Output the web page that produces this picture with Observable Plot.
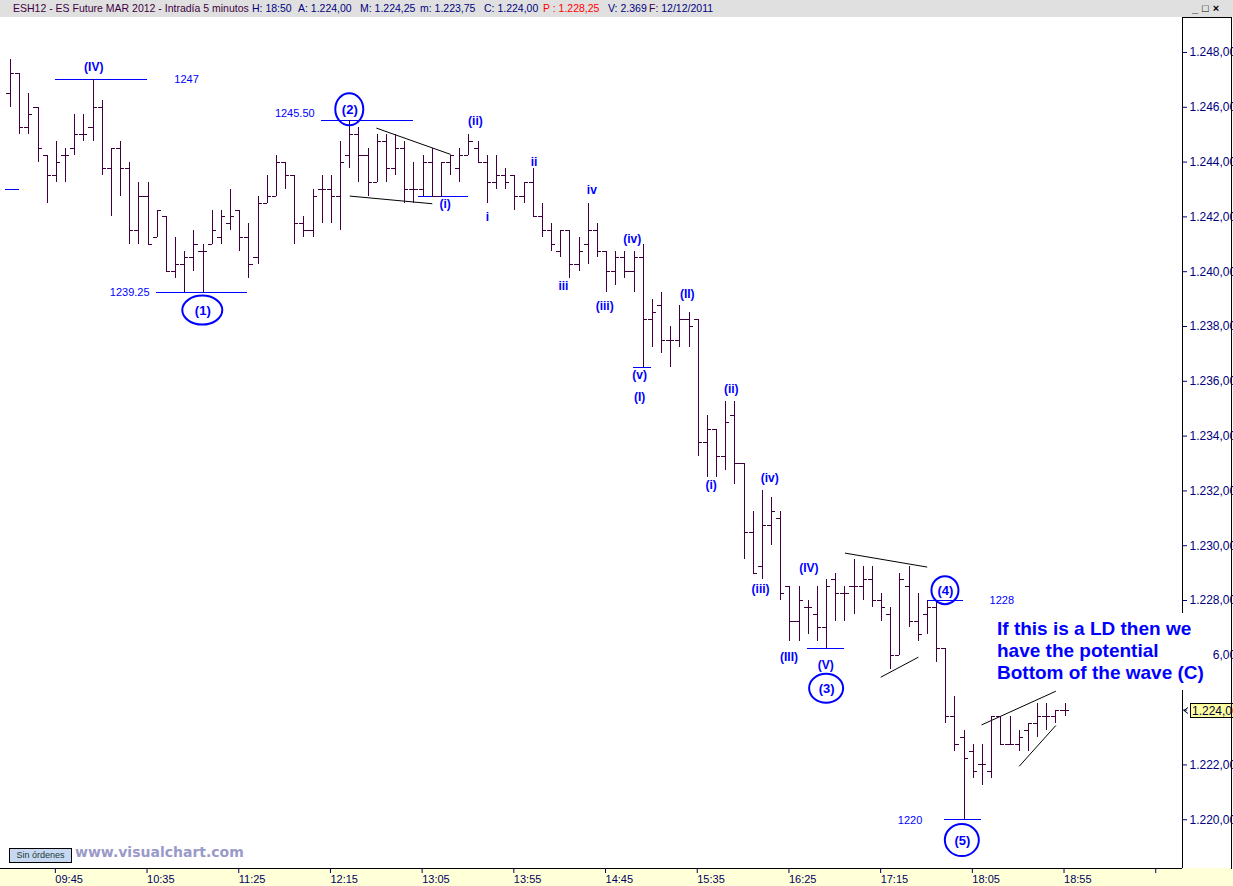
<!DOCTYPE html>
<html>
<head>
<meta charset="utf-8">
<script src="https://cdn.jsdelivr.net/npm/d3@7"></script>
<script src="https://cdn.jsdelivr.net/npm/@observablehq/plot@0.6"></script>
<style>
  body { margin: 0; background: #fff; font-family: "Liberation Sans", Arial, sans-serif; }
  #wrap { position: relative; width: 1233px; height: 886px; overflow: hidden; background: #fff; }
  #hdr { position: absolute; left: 0; top: 0; width: 1233px; height: 17px; background: #e0e0e0; font-size: 10.5px; line-height: 17px; white-space: nowrap; color: #000080; }
  #hdr span { position: absolute; top: 0; }
  .pu { color: #400040; }
  .rd { color: #ff0000; }
  #btns { position: absolute; left: 1192px; top: -2px; font-size: 11px; font-weight: bold; color: #000; letter-spacing: 4px; }
  #strip { position: absolute; left: 0; top: 868px; width: 1233px; height: 18px; background: #ffffd8; }
  #chart { position: absolute; left: 0; top: 17px; z-index: 1; }
  #panel { position: absolute; left: 1182px; top: 17px; width: 49px; height: 851px; border-top: 1px solid #000; border-right: 1px solid #000; z-index: 2; pointer-events: none; }
  #note { position: absolute; left: 993px; top: 613px; width: 220px; height: 77px; padding: 5px 0 0 4px; box-sizing: border-box; background: #fff; z-index: 3; color: #0000ff; font-weight: bold; font-size: 19px; line-height: 22px; white-space: nowrap; }
  #orders { position: absolute; left: 9px; top: 848px; width: 61px; height: 13px; background: #c8d8f0; border: 1px solid #000; font-size: 9px; line-height: 13px; text-align: center; color: #183838; z-index: 3; }
  #brand { position: absolute; left: 75px; top: 844px; font-family: "DejaVu Sans", sans-serif; font-weight: bold; font-size: 14px; color: #9a9ac8; z-index: 3; }
</style>
</head>
<body>
<div id="wrap">
  <div id="hdr">
    <span class="pu" style="left:13px">ESH12 - ES Future MAR 2012 - Intradía 5 minutos</span>
    <span style="left:252px">H: 18:50</span>
    <span style="left:298px">A: 1.224,00</span>
    <span style="left:360px">M: 1.224,25</span>
    <span style="left:420px">m: 1.223,75</span>
    <span style="left:484px">C: 1.224,00</span>
    <span class="rd" style="left:543px">P : 1.228,25</span>
    <span style="left:608px">V: 2.369</span>
    <span style="left:649px"><span class="pu" style="position:static">F:</span> 12/12/2011</span>
    <span id="btns">_□×</span>
  </div>
  <div id="strip"></div>
  <div id="chart"></div>
  <div id="panel"></div>
  <div id="note">If this is a LD then we<br>have the potential<br>Bottom of the wave (C)</div>
  <div id="orders">Sin órdenes</div>
  <div id="brand">www.visualchart.com</div>
</div>
<script>
// ---------- data: ESH12 5-minute bars, 12/12/2011 ----------
const startTime = "09:15";
const barMinutes = 5;

const opens = [
  1246.5, 1247.25, 1245.25, 1246.0, 1244.25, 1243.5, 1244.25, 1244.5, 1245.0, 1245.25,
  1246.0, 1243.75, 1244.5, 1243.75, 1241.5, 1242.75, 1241.25, 1242.0, 1240.0, 1240.25,
  1240.5, 1240.75, 1241.0, 1241.25, 1241.75, 1242.25, 1241.25, 1240.5, 1242.5, 1242.75,
  1244.0, 1243.5, 1241.75, 1241.5, 1243.0, 1243.0, 1242.75, 1244.25, 1245.0, 1244.25,
  1243.25, 1244.75, 1243.75, 1244.5, 1243.0, 1243.0, 1244.0, 1242.75, 1244.0, 1243.75,
  1244.25, 1244.5, 1244.0, 1243.25, 1243.5, 1243.5, 1242.75, 1243.25, 1242.0, 1241.5,
  1240.75, 1241.5, 1240.25, 1241.0, 1241.5, 1240.75, 1240.0, 1240.5, 1240.0, 1240.5,
  1238.25, 1238.75, 1237.5, 1237.5, 1238.25, 1238.25, 1233.75, 1234.25, 1233.25, 1234.75,
  1233.0, 1230.5, 1229.25, 1230.75, 1231.0, 1228.5, 1227.25, 1227.75, 1227.5, 1227.0,
  1228.75, 1228.25, 1228.5, 1228.5, 1228.75, 1228.0, 1227.5, 1226.0, 1228.5, 1227.25,
  1227.5, 1227.75, 1226.25, 1223.75, 1223.0, 1222.5, 1222.0, 1221.75, 1223.75, 1222.75,
  1222.75, 1223.25, 1223.5, 1223.75, 1223.75, 1224.0
];
const highs = [
  1247.75, 1247.25, 1246.5, 1246.0, 1244.25, 1244.75, 1244.5, 1245.75, 1245.75, 1247.0,
  1246.25, 1244.5, 1244.75, 1244.0, 1243.25, 1243.25, 1242.25, 1242.0, 1241.25, 1240.75,
  1241.5, 1241.0, 1242.25, 1242.25, 1243.0, 1242.25, 1241.75, 1242.75, 1243.5, 1244.25,
  1244.0, 1243.5, 1242.0, 1243.0, 1243.5, 1243.5, 1244.75, 1245.5, 1245.25, 1244.5,
  1245.0, 1245.0, 1245.0, 1244.75, 1244.0, 1244.25, 1244.5, 1244.0, 1244.25, 1244.5,
  1245.0, 1244.75, 1244.25, 1244.25, 1243.75, 1243.5, 1243.25, 1243.75, 1242.5, 1241.75,
  1241.5, 1241.5, 1241.25, 1242.5, 1241.75, 1240.75, 1240.75, 1240.75, 1240.75, 1241.0,
  1239.0, 1239.25, 1238.0, 1238.75, 1238.5, 1238.25, 1234.75, 1234.25, 1235.25, 1235.25,
  1233.0, 1231.25, 1232.0, 1231.75, 1231.25, 1228.5, 1228.5, 1228.0, 1228.5, 1228.75,
  1229.0, 1228.5, 1229.5, 1229.25, 1229.25, 1228.25, 1227.75, 1229.0, 1229.25, 1228.25,
  1228.0, 1228.0, 1226.25, 1224.5, 1223.25, 1222.75, 1222.75, 1223.75, 1223.75, 1223.75,
  1223.25, 1223.5, 1224.25, 1224.25, 1224.0, 1224.25
];
const lows = [
  1246.0, 1245.0, 1245.0, 1244.0, 1242.5, 1243.25, 1243.25, 1244.25, 1244.75, 1244.75,
  1243.5, 1242.0, 1242.75, 1241.0, 1241.0, 1241.0, 1241.25, 1240.0, 1239.75, 1239.25,
  1240.0, 1239.25, 1241.0, 1241.0, 1241.5, 1240.75, 1239.75, 1240.25, 1242.5, 1242.75,
  1243.0, 1241.0, 1241.25, 1241.25, 1241.75, 1241.75, 1241.5, 1243.75, 1243.25, 1242.75,
  1243.25, 1243.25, 1243.5, 1242.5, 1242.5, 1242.75, 1242.75, 1242.75, 1243.5, 1243.25,
  1244.25, 1244.0, 1242.5, 1243.0, 1243.0, 1242.25, 1242.5, 1242.0, 1241.25, 1240.75,
  1240.5, 1239.75, 1240.0, 1240.25, 1240.5, 1239.25, 1239.5, 1239.75, 1239.25, 1236.5,
  1237.25, 1237.0, 1236.5, 1237.25, 1237.25, 1233.25, 1232.5, 1232.5, 1232.75, 1232.25,
  1229.5, 1229.0, 1228.75, 1230.0, 1228.0, 1226.5, 1226.5, 1226.75, 1226.5, 1226.25,
  1227.25, 1227.25, 1227.5, 1228.0, 1227.75, 1227.25, 1225.5, 1226.0, 1227.0, 1226.5,
  1226.75, 1225.75, 1223.5, 1222.5, 1220.0, 1221.5, 1221.25, 1221.5, 1222.75, 1222.75,
  1222.5, 1222.5, 1223.0, 1223.25, 1223.5, 1223.75
];
const closes = [
  1247.25, 1245.25, 1245.75, 1244.5, 1243.5, 1244.0, 1244.25, 1245.0, 1245.0, 1246.0,
  1243.75, 1244.5, 1243.75, 1241.5, 1242.75, 1241.0, 1242.25, 1240.0, 1240.25, 1240.5,
  1241.0, 1240.75, 1241.5, 1242.0, 1242.0, 1241.25, 1240.25, 1242.5, 1242.75, 1244.0,
  1243.5, 1241.75, 1241.5, 1242.75, 1243.0, 1242.75, 1244.0, 1245.0, 1244.25, 1243.25,
  1244.75, 1243.75, 1244.5, 1243.0, 1243.0, 1244.0, 1242.75, 1244.0, 1244.25, 1244.25,
  1244.75, 1244.0, 1243.25, 1243.5, 1243.25, 1242.75, 1243.25, 1242.0, 1241.5, 1241.0,
  1241.5, 1240.25, 1240.75, 1241.5, 1240.75, 1240.0, 1240.5, 1240.0, 1240.5, 1238.25,
  1238.5, 1237.5, 1237.5, 1238.25, 1238.0, 1233.75, 1234.25, 1233.25, 1234.5, 1233.0,
  1230.5, 1229.0, 1230.75, 1231.25, 1228.25, 1227.25, 1228.0, 1227.75, 1227.0, 1228.5,
  1228.25, 1228.25, 1228.5, 1228.75, 1228.0, 1227.75, 1226.0, 1228.75, 1227.25, 1226.75,
  1227.75, 1226.25, 1223.75, 1222.75, 1222.25, 1221.75, 1222.0, 1223.75, 1222.75, 1222.75,
  1223.0, 1223.5, 1223.75, 1223.75, 1224.0, 1224.0
];

const xTickLabels = ["09:45","10:35","11:25","12:15","13:05","13:55","14:45","15:35","16:25","17:15","18:05","18:55"];
const yTicks = [1220,1222,1224,1226,1228,1230,1232,1234,1236,1238,1240,1242,1244,1246,1248];

// ---------- annotations (bar index, price) ----------
const levelLines = [
  {x1: 4.9, x2: 14.9, y: 1247},
  {x1: 15.9, x2: 25.9, y: 1239.25},
  {x1: 33.9, x2: 43.9, y: 1245.5},
  {x1: 44.5, x2: 49.9, y: 1242.75},
  {x1: 67.9, x2: 69.9, y: 1236.5},
  {x1: 86.9, x2: 90.9, y: 1226.25},
  {x1: 100.0, x2: 103.9, y: 1228},
  {x1: 101.9, x2: 105.9, y: 1220},
  {x1: -0.55, x2: 0.98, y: 1243}
];
const trendLines = [
  {x1: 39.9, y1: 1245.24, x2: 48.0, y2: 1244.28},
  {x1: 37.0, y1: 1242.76, x2: 46.0, y2: 1242.48},
  {x1: 91.0, y1: 1229.73, x2: 99.97, y2: 1229.22},
  {x1: 94.9, y1: 1225.2, x2: 99.0, y2: 1225.93},
  {x1: 105.9, y1: 1223.46, x2: 114.0, y2: 1224.69},
  {x1: 110.0, y1: 1221.95, x2: 114.0, y2: 1223.44}
];
const waveLabels = [
  {t: "(IV)", x: 9.08, y: 1247.46},
  {t: "(i)", x: 47.4, y: 1242.48},
  {t: "(ii)", x: 50.7, y: 1245.48},
  {t: "i", x: 52.0, y: 1241.99},
  {t: "ii", x: 57.1, y: 1244.0},
  {t: "iii", x: 60.3, y: 1239.47},
  {t: "iv", x: 63.4, y: 1242.96},
  {t: "(iii)", x: 64.8, y: 1238.74},
  {t: "(iv)", x: 67.8, y: 1241.2},
  {t: "(v)", x: 68.6, y: 1236.21},
  {t: "(I)", x: 68.6, y: 1235.42},
  {t: "(II)", x: 73.8, y: 1239.18},
  {t: "(i)", x: 76.4, y: 1232.2},
  {t: "(ii)", x: 78.6, y: 1235.7},
  {t: "(iii)", x: 81.8, y: 1228.43},
  {t: "(iv)", x: 82.8, y: 1232.45},
  {t: "(III)", x: 84.9, y: 1225.93},
  {t: "(IV)", x: 87.06, y: 1229.18},
  {t: "(V)", x: 88.9, y: 1225.65}
];
const circled = [
  {t: "(1)", x: 20.97, y: 1238.58, rx: 20, ry: 14.5},
  {t: "(2)", x: 37.0, y: 1245.91, rx: 14, ry: 16},
  {t: "(3)", x: 89.0, y: 1224.78, rx: 17, ry: 14.5},
  {t: "(4)", x: 101.96, y: 1228.36, rx: 13.5, ry: 14},
  {t: "(5)", x: 103.8, y: 1219.24, rx: 17, ry: 16}
];
const priceNotes = [
  {t: "1247", x: 19.2, y: 1247.0},
  {t: "1245.50", x: 31.0, y: 1245.76},
  {t: "1239.25", x: 13.0, y: 1239.25},
  {t: "1228", x: 108.1, y: 1228.0},
  {t: "1220", x: 98.1, y: 1219.97}
];

// ---------- build ----------
const bars = opens.map((o, i) => ({i, open: o, high: highs[i], low: lows[i], close: closes[i]}));
const toMin = s => { const [h, m] = s.split(":").map(Number); return h * 60 + m; };
const tickBars = xTickLabels.map(s => (toMin(s) - barMinutes - toMin(startTime)) / barMinutes);
const xTicks = tickBars.concat([tickBars[tickBars.length - 1] + 10]);
const labelOf = new Map(tickBars.map((b, k) => [b, xTickLabels[k]]));

const loc = d3.formatLocale({decimal: ",", thousands: ".", grouping: [3], currency: ["", ""]});
const fmtPrice = loc.format(",.2f");
const last = closes[closes.length - 1];

const xDomain = [-1.09, 127.81];
const yDomain = [1218.22, 1249.24];
const barColor = "#400040";
const blue = "#0000ff";
const tw = 0.45;

const plot = Plot.plot({
  width: 1233,
  height: 869,
  marginTop: 1,
  marginBottom: 18,
  marginLeft: 0,
  marginRight: 51,
  style: {background: "transparent", fontFamily: "'Liberation Sans', Arial, sans-serif", overflow: "visible"},
  x: {domain: xDomain, label: null},
  y: {domain: yDomain, label: null},
  marks: [
    Plot.ruleX([xDomain[1]], {stroke: "#000", shapeRendering: "crispEdges"}),
    Plot.ruleY([yDomain[0]], {stroke: "#000", shapeRendering: "crispEdges"}),
    Plot.axisY({anchor: "right", ticks: yTicks, tickFormat: d => d === last ? "" : fmtPrice(d), tickSize: 4, tickPadding: 3, fontSize: 12, color: "#000080", label: null}),
    Plot.axisX({ticks: xTicks, tickFormat: d => labelOf.get(d) ?? "", tickSize: 5, tickPadding: 2, textAnchor: "start", dx: -1, fontSize: 11, color: "#000060", label: null}),
    // level lines & trend lines
    Plot.ruleY(levelLines, {y: "y", x1: "x1", x2: "x2", stroke: blue, shapeRendering: "crispEdges"}),
    Plot.link(trendLines, {x1: "x1", y1: "y1", x2: "x2", y2: "y2", stroke: "#000", strokeWidth: 1}),
    // OHLC bars
    Plot.ruleX(bars, {x: "i", y1: "low", y2: "high", stroke: barColor, strokeWidth: 1, shapeRendering: "crispEdges"}),
    Plot.ruleY(bars, {y: "open", x1: d => d.i - tw, x2: "i", stroke: barColor, strokeWidth: 1, shapeRendering: "crispEdges"}),
    Plot.ruleY(bars, {y: "close", x1: "i", x2: d => d.i + tw, stroke: barColor, strokeWidth: 1, shapeRendering: "crispEdges"}),
    // labels
    Plot.text(waveLabels, {x: "x", y: "y", text: "t", fill: blue, fontWeight: "bold", fontSize: 12}),
    Plot.text(circled, {x: "x", y: "y", text: "t", fill: blue, fontWeight: "bold", fontSize: 13}),
    Plot.text(priceNotes, {x: "x", y: "y", text: "t", fill: blue, fontSize: 11})
  ]
});

document.getElementById("chart").appendChild(plot);

// ellipses around the circled wave counts and the last-price marker, via Plot's scales
const sx = plot.scale("x"), sy = plot.scale("y");
const g = d3.select(plot).append("g");
g.selectAll("ellipse").data(circled).join("ellipse")
  .attr("cx", d => sx.apply(d.x)).attr("cy", d => sy.apply(d.y))
  .attr("rx", d => d.rx).attr("ry", d => d.ry)
  .attr("fill", "none").attr("stroke", blue).attr("stroke-width", 2);

const yl = Math.round(sy.apply(last)) + 0.5;
const xr = sx.apply(xDomain[1]);
g.append("path").attr("d", `M${xr + 6},${yl - 3} L${xr + 2},${yl} L${xr + 6},${yl + 3}`)
  .attr("fill", "none").attr("stroke", "#000");
g.append("rect").attr("x", xr + 8.5).attr("y", yl - 7).attr("width", 60).attr("height", 14)
  .attr("fill", "#ffffa0").attr("stroke", "#000");
g.append("text").attr("x", xr + 10).attr("y", yl).attr("dy", "0.36em")
  .attr("text-anchor", "start")
  .attr("font-size", 12).attr("fill", "#000040").text(fmtPrice(last));
</script>
</body>
</html>
